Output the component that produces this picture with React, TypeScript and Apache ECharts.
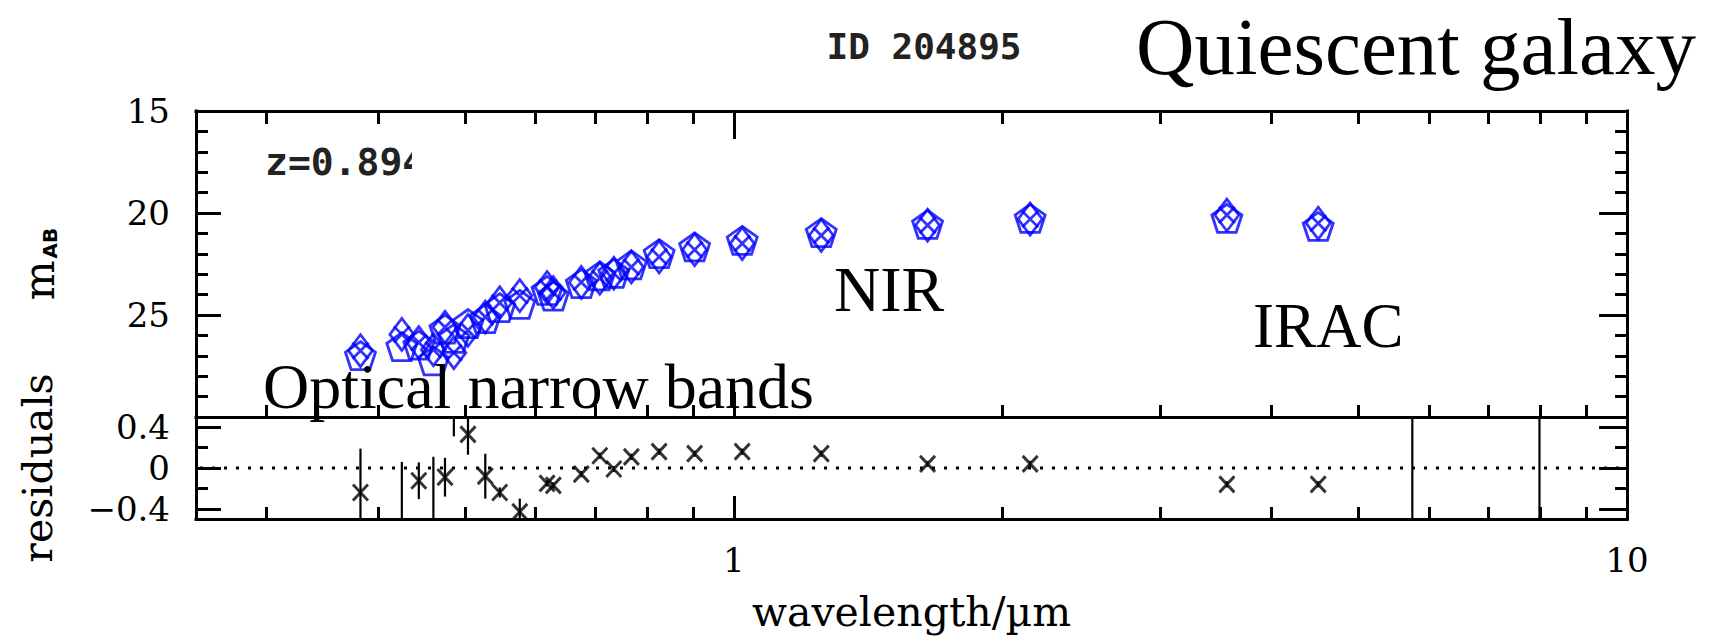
import React, { useEffect, useRef } from 'react';
import * as echarts from 'echarts';

// ---------------- data ----------------
const bandWavelengths = [0.382, 0.425, 0.444, 0.461, 0.475, 0.486, 0.504, 0.527, 0.547, 0.576, 0.618, 0.628, 0.675, 0.708, 0.734, 0.768, 0.825, 0.904, 1.022, 1.253, 1.648, 2.147, 3.565, 4.511, 5.75, 7.98];
const observedMags: (number | null)[] = [26.75, 25.95, 26.35, 26.7, 25.6, 26.85, 25.75, 25.1, 24.4, 24.05, 23.65, 23.9, 23.4, 23.2, 22.95, 22.65, 22.15, 21.8, 21.5, 21.1, 20.6, 20.3, 20.1, 20.5, null, null];
const residuals = [-0.24, -0.6, -0.125, -0.55, -0.09, 0.7, 0.33, -0.08, -0.24, -0.43, -0.15, -0.17, -0.06, 0.12, -0.01, 0.11, 0.16, 0.14, 0.16, 0.14, 0.04, 0.04, -0.16, -0.16, -2.0, -2.0];
const residualErrors = [0.43, 0.66, 0.18, 0.66, 0.19, 0.39, 0.2, 0.22, 0.05, 0.13, 0.03, 0.03, 0.03, 0.03, 0.03, 0.03, 0.03, 0.03, 0.03, 0.03, 0.03, 0.03, 0.03, 0.03, 3.0, 3.0];

const xRange = [0.25, 10];
const magRange = [15, 30];
const resRange = [-0.5, 0.5];
const xMinorTicks = [0.3, 0.4, 0.5, 0.6, 0.7, 0.8, 0.9, 2, 3, 4, 5, 6, 7, 8, 9];
const xMajorTicks = [1];
const xTickLabels = [1, 10];
const magMajorTicks = [20, 25];
const magMinorTicks = [16, 17, 18, 19, 21, 22, 23, 24, 26, 27, 28, 29];
const magTickLabels = [15, 20, 25];
const resMajorTicks = [-0.4, 0, 0.4];
const resMinorTicks = [-0.2, 0.2];
const resTickLabels = [-0.4, 0, 0.4];
const zeroLevel = 0;

const idLabel = 'ID 204895';
const redshiftLabel = 'z=0.894';
const titleLabel = 'Quiescent galaxy';
const annotations = ['Optical narrow bands', 'NIR', 'IRAC'];

// ---------------- styles ----------------
const BLUE = '#0000ff';
const frame = { color: '#000', width: 3, cap: 'square' as const };
const tickFont = 'DejaVu Serif';
const TIMES = 'Liberation Serif';
const pentagon = 'path://M50,0L97.55,34.55L79.39,90.45L20.61,90.45L2.45,34.55Z';
const crossPath = 'path://M0,0L10,10M10,0L0,10';

const G0 = { left: 196, top: 111, width: 1431, height: 306 };
const G1 = { left: 196, top: 417, width: 1431, height: 102 };

function xAx(grid: number, position: string, ticks: number[], len: number, showLine: boolean, extra: any = {}) {
  return {
    type: 'log', logBase: 10, gridIndex: grid, position, min: xRange[0], max: xRange[1],
    axisLine: { show: showLine, onZero: false, lineStyle: frame },
    axisTick: { show: true, inside: true, length: len, customValues: ticks, lineStyle: { color: '#000', width: 3 } },
    axisLabel: { show: false },
    splitLine: { show: false },
    minorTick: { show: false },
    minorSplitLine: { show: false },
    ...extra,
  };
}

function yAx(grid: number, position: string, range: number[], inverse: boolean, ticks: number[], len: number, showLine: boolean, extra: any = {}) {
  return {
    type: 'value', gridIndex: grid, position, min: range[0], max: range[1], inverse,
    axisLine: { show: showLine, onZero: false, lineStyle: frame },
    axisTick: { show: true, inside: true, length: len, customValues: ticks, lineStyle: { color: '#000', width: 3 } },
    axisLabel: { show: false },
    splitLine: { show: false },
    ...extra,
  };
}

const labelStyle = { fontFamily: tickFont, fontSize: 34, color: '#000' };
const nameStyle = { fontFamily: tickFont, fontSize: 41, color: '#000' };

function fmtRes(v: number) {
  if (v === 0) return '0';
  return v < 0 ? '\u2212' + Math.abs(v) : String(v);
}

// build series data
const obsData: number[][] = [];
const modelData: number[][] = [];
bandWavelengths.forEach((lam, i) => {
  const m = observedMags[i];
  if (m != null) {
    obsData.push([lam, m]);
    modelData.push([lam, +(m - residuals[i]).toFixed(3)]);
  }
});
const resData = bandWavelengths.map((lam, i) => [lam, residuals[i]]);
const errData = bandWavelengths.map((lam, i) => [lam, residuals[i] - residualErrors[i], residuals[i] + residualErrors[i]]);
const zeroData = [[xRange[0], xRange[1], zeroLevel]];

const option: any = {
  animation: false,
  backgroundColor: '#fff',
  grid: [
    { ...G0, containLabel: false },
    { ...G1, containLabel: false },
  ],
  xAxis: [
    xAx(0, 'bottom', xMajorTicks, 25, true),
    xAx(0, 'bottom', xMinorTicks, 12, false),
    xAx(0, 'top', xMajorTicks, 28, true),
    xAx(0, 'top', xMinorTicks, 13, false),
    xAx(1, 'bottom', xMajorTicks, 23, true, {
      axisLabel: { show: true, customValues: xTickLabels, formatter: (v: number) => String(Math.round(v)), margin: 24, ...labelStyle },
      name: 'wavelength/\u00b5m', nameLocation: 'middle', nameGap: 72, nameTextStyle: nameStyle,
    }),
    xAx(1, 'bottom', xMinorTicks, 12, false),
  ],
  yAxis: [
    yAx(0, 'left', magRange, true, magMajorTicks, 25, true, {
      axisLabel: { show: true, customValues: magTickLabels, margin: 26, ...labelStyle },
      name: '{m|m}{s|AB}', nameLocation: 'middle', nameRotate: 90, nameGap: 136,
      nameTextStyle: {
        ...nameStyle,
        rich: {
          m: { fontFamily: tickFont, fontSize: 42, color: '#000', lineHeight: 44, verticalAlign: 'bottom' },
          s: { fontFamily: 'DejaVu Sans', fontWeight: 'bold', fontSize: 20, color: '#000', lineHeight: 44, verticalAlign: 'bottom', padding: [0, 0, 0, 2] },
        },
      },
    }),
    yAx(0, 'left', magRange, true, magMinorTicks, 12, false),
    yAx(0, 'right', magRange, true, magMajorTicks, 28, true),
    yAx(0, 'right', magRange, true, magMinorTicks, 12, false),
    yAx(1, 'left', resRange, false, resMajorTicks, 25, true, {
      axisLabel: { show: true, customValues: resTickLabels, formatter: fmtRes, margin: 26, ...labelStyle },
      name: 'residuals', nameLocation: 'middle', nameRotate: 90, nameGap: 138, nameTextStyle: nameStyle,
    }),
    yAx(1, 'left', resRange, false, resMinorTicks, 12, false),
    yAx(1, 'right', resRange, false, resMajorTicks, 28, true),
    yAx(1, 'right', resRange, false, resMinorTicks, 12, false),
  ],
  series: [
    {
      name: 'model', type: 'scatter', xAxisIndex: 0, yAxisIndex: 0, data: modelData, silent: true,
      symbol: pentagon, symbolSize: [30, 28],
      itemStyle: { color: 'rgba(0,0,0,0)', borderColor: BLUE, borderWidth: 2.8 },
    },
    {
      name: 'observed', type: 'scatter', xAxisIndex: 0, yAxisIndex: 0, data: obsData, silent: true,
      symbol: 'diamond', symbolSize: [24, 32],
      itemStyle: { color: 'rgba(0,0,0,0)', borderColor: BLUE, borderWidth: 2.8 },
    },
    {
      name: 'observed-x', type: 'scatter', xAxisIndex: 0, yAxisIndex: 0, data: obsData, silent: true,
      symbol: crossPath, symbolSize: 16,
      itemStyle: { color: 'rgba(0,0,0,0)', borderColor: BLUE, borderWidth: 2.8 },
    },
    {
      name: 'zero', type: 'custom', xAxisIndex: 4, yAxisIndex: 4, silent: true, data: zeroData,
      encode: { x: [0, 1], y: 2 },
      renderItem: (params: any, api: any) => {
        const p1 = api.coord([api.value(0), api.value(2)]);
        const p2 = api.coord([api.value(1), api.value(2)]);
        return {
          type: 'line',
          shape: { x1: p1[0] + 4, y1: p1[1], x2: p2[0] - 4, y2: p2[1] },
          style: { stroke: '#000', lineWidth: 3, lineDash: [3, 9] },
        };
      },
    },
    {
      name: 'errors', type: 'custom', xAxisIndex: 4, yAxisIndex: 4, silent: true, data: errData,
      encode: { x: 0, y: [1, 2] },
      renderItem: (params: any, api: any) => {
        const lam = api.value(0);
        const pLo = api.coord([lam, api.value(1)]);
        const pHi = api.coord([lam, api.value(2)]);
        const cs = params.coordSys;
        const top = cs.y;
        const bottom = cs.y + cs.height;
        const y1 = Math.min(Math.max(pHi[1], top), bottom);
        const y2 = Math.min(Math.max(pLo[1], top), bottom);
        return { type: 'line', shape: { x1: pLo[0], y1, x2: pLo[0], y2 }, style: { stroke: '#000', lineWidth: 2.2 } };
      },
    },
    {
      name: 'residuals', type: 'scatter', xAxisIndex: 4, yAxisIndex: 4, data: resData, silent: true, clip: true,
      symbol: crossPath, symbolSize: [15, 16],
      itemStyle: { color: 'rgba(0,0,0,0)', borderColor: '#000', borderWidth: 3 },
    },
  ],
  graphic: [
    { type: 'text', x: 924, y: 46, z: 100, style: { text: idLabel, fontFamily: 'DejaVu Sans Mono', fontWeight: 'bold', fontSize: 36, fill: '#222', textAlign: 'center', textVerticalAlign: 'middle' } },
    { type: 'text', x: 1696, y: 47, z: 100, style: { text: titleLabel, fontFamily: TIMES, fontSize: 81, fill: '#000', textAlign: 'right', textVerticalAlign: 'middle' } },
    { type: 'text', x: 265, y: 162, z: 100, style: { text: redshiftLabel, fontFamily: 'DejaVu Sans Mono', fontWeight: 'bold', fontSize: 38, fill: '#222', textAlign: 'left', textVerticalAlign: 'middle' } },
    { type: 'rect', z: 101, shape: { x: 412, y: 138, width: 30, height: 48 }, style: { fill: '#fff' } },
    { type: 'text', x: 263, y: 386, z: 100, style: { text: annotations[0], fontFamily: TIMES, fontSize: 64, fill: '#000', textAlign: 'left', textVerticalAlign: 'middle' } },
    { type: 'text', x: 834, y: 289, z: 100, style: { text: annotations[1], fontFamily: TIMES, fontSize: 64, fill: '#000', textAlign: 'left', textVerticalAlign: 'middle' } },
    { type: 'text', x: 1253, y: 326, z: 100, style: { text: annotations[2], fontFamily: TIMES, fontSize: 63, fill: '#000', textAlign: 'left', textVerticalAlign: 'middle' } },
  ],
};

export default function App() {
  const ref = useRef<HTMLDivElement>(null);
  useEffect(() => {
    if (!ref.current) return;
    const chart = echarts.init(ref.current, null, { renderer: 'svg' });
    chart.setOption(option);
    return () => chart.dispose();
  }, []);
  return <div ref={ref} style={{ position: 'fixed', left: 0, top: 0, width: 1718, height: 641, background: '#fff' }} />;
}
